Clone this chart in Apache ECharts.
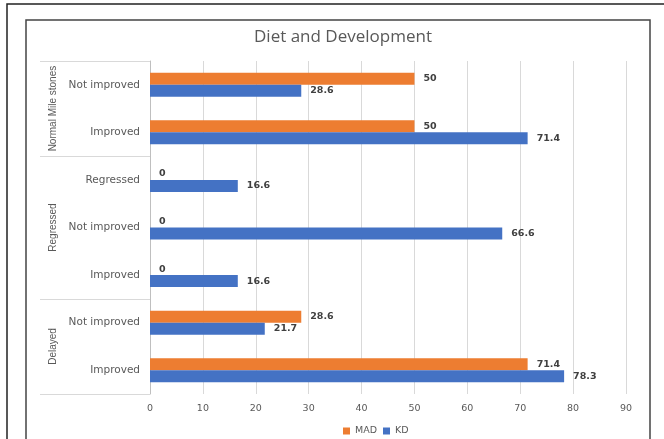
<!DOCTYPE html>
<html><head><meta charset="utf-8">
<script src="https://cdn.jsdelivr.net/npm/echarts@6/dist/echarts.min.js"></script>
<style>html,body{margin:0;padding:0;background:#fff}#c{width:664px;height:439px}</style>
</head><body><div id="c"></div>
<script>
const categories = ['Not improved','Improved','Regressed','Not improved','Improved','Not improved','Improved'];
const groups = ['Normal Mile stones','Regressed','Delayed'];
const groupSizes = [2,3,2];
const madValues = [50,50,0,0,0,28.6,71.4];
const kdValues = [28.6,71.4,16.6,66.6,16.6,21.7,78.3];
const xTicks = [0,90,10];

const bounds=[0]; groupSizes.forEach(s=>bounds.push(bounds[bounds.length-1]+s));
const centers=groupSizes.map((s,i)=>bounds[i]+s/2);
const total=bounds[bounds.length-1];

const chart = echarts.init(document.getElementById('c'));
const lbl = {show:true,position:'right',distance:9,color:'#404040',fontFamily:'DejaVu Sans',fontSize:9.5,fontWeight:'bold'};
chart.setOption({
  animation:false,
  title:{text:'Diet and Development',left:338,top:24,textAlign:'center',textStyle:{fontFamily:'Open Sans',fontSize:17,fontWeight:'normal',color:'#595959'}},
  legend:{data:['MAD','KD'],top:421,left:338,textAlign:'center',icon:'rect',itemWidth:7,itemHeight:7,itemGap:6,textStyle:{fontFamily:'DejaVu Sans',fontSize:9.5,color:'#595959'}},
  grid:{left:150,right:38,top:61,bottom:45},
  xAxis:{type:'value',min:xTicks[0],max:xTicks[1],interval:xTicks[2],axisLine:{show:false},axisTick:{show:false},
    splitLine:{lineStyle:{color:'#d9d9d9'}},axisLabel:{margin:10,color:'#595959',fontFamily:'DejaVu Sans',fontSize:9.5}},
  yAxis:[
    {type:'category',data:categories,inverse:true,axisLine:{lineStyle:{color:'#bfbfbf'}},axisTick:{show:false},
     axisLabel:{margin:10,color:'#595959',fontFamily:'DejaVu Sans',fontSize:10.5}},
    {type:'value',min:0,max:total,inverse:true,position:'left',axisLine:{show:false},splitLine:{show:false},
     axisTick:{show:true,customValues:bounds,length:110,lineStyle:{color:'#d9d9d9'}},
     axisLabel:{customValues:centers,rotate:90,margin:92,color:'#595959',fontFamily:'Liberation Sans',fontSize:10,
       formatter:v=>{const i=centers.indexOf(v);return i>=0?groups[i]:'';}}}
  ],
  graphic:[
    {type:'rect',shape:{x:7,y:4,width:700,height:500},style:{fill:'none',stroke:'#222',lineWidth:1.5},silent:true},
    {type:'rect',shape:{x:26,y:20,width:624,height:500},style:{fill:'none',stroke:'#444',lineWidth:1.5},silent:true}
  ],
  series:[
    {name:'MAD',type:'bar',data:madValues,barWidth:12,barGap:'0%',itemStyle:{color:'#ED7D31'},label:lbl},
    {name:'KD',type:'bar',data:kdValues,barWidth:12,barGap:'0%',itemStyle:{color:'#4472C4'},label:lbl}
  ]
});
</script></body></html>
